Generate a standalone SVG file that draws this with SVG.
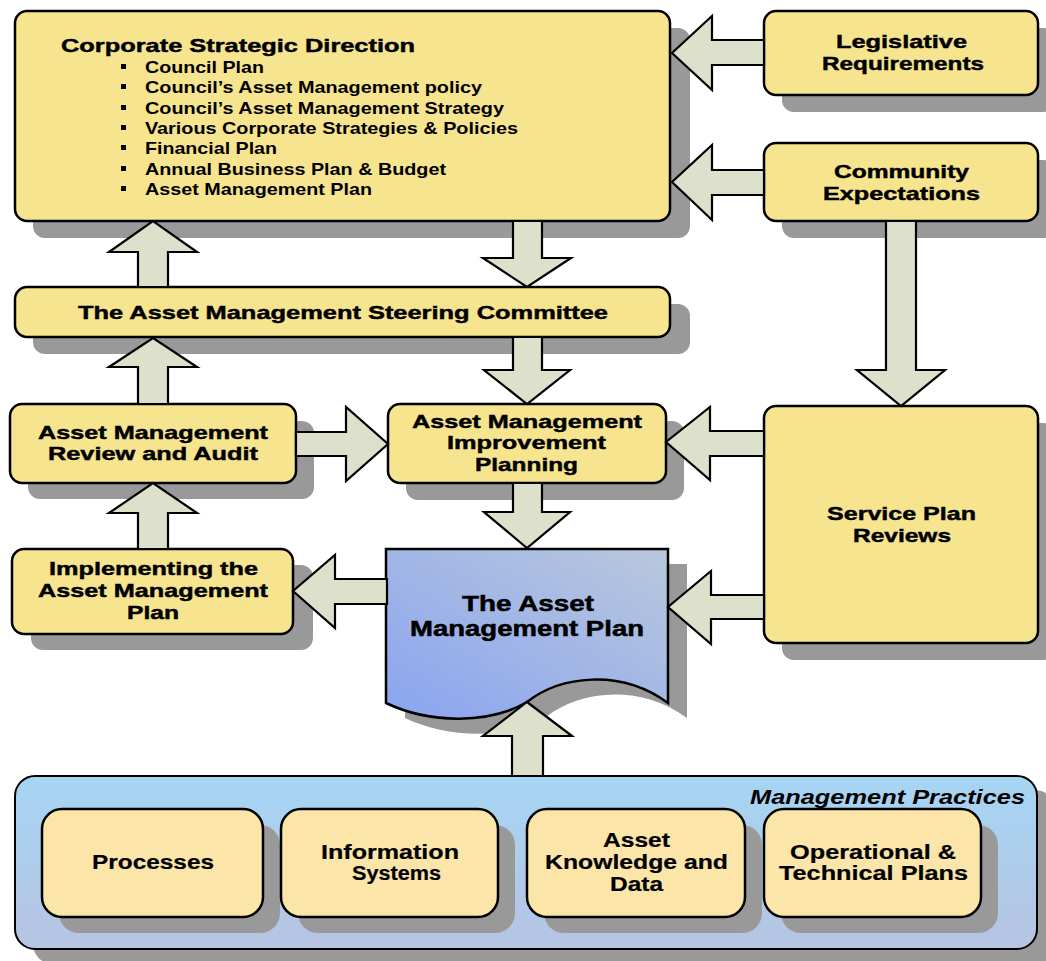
<svg xmlns="http://www.w3.org/2000/svg" width="1046" height="961" viewBox="0 0 1046 961">
<defs>
<linearGradient id="docGrad" x1="0" y1="1" x2="1" y2="0">
<stop offset="0" stop-color="#8aa4f0"/>
<stop offset="1" stop-color="#b9c8dc"/>
</linearGradient>
<linearGradient id="mpGrad" x1="0" y1="0" x2="0" y2="1">
<stop offset="0" stop-color="#a6d5f4"/>
<stop offset="1" stop-color="#b6c4e2"/>
</linearGradient>
</defs>
<style>
.sh{fill:#999999;}
.box{fill:#f6e48e;stroke:#000;stroke-width:2.5;}
.ibox{fill:#fbe5a9;stroke:#000;stroke-width:2.5;}
.arr{fill:#dde1cb;stroke:#000;stroke-width:2.2;stroke-linejoin:miter;}
.t{font-family:"Liberation Sans",Arial,sans-serif;font-weight:bold;font-size:19px;fill:#000;stroke:#000;stroke-width:0.45;}
.b{font-family:"Liberation Sans",Arial,sans-serif;font-weight:bold;font-size:17px;fill:#000;}
.d{font-family:"Liberation Sans",Arial,sans-serif;font-weight:bold;font-size:22px;fill:#000;stroke:#000;stroke-width:0.5;}
.i{font-family:"Liberation Sans",Arial,sans-serif;font-weight:bold;font-size:20px;fill:#000;stroke:#000;stroke-width:0.2;}
.mp{font-family:"Liberation Sans",Arial,sans-serif;font-weight:bold;font-style:italic;font-size:20px;fill:#000;}
</style>
<rect width="1046" height="961" fill="#ffffff"/>

<g id="corporate">
<rect class="sh" x="33" y="28" width="657" height="210" rx="12"/>
<rect class="box" x="15" y="11" width="655" height="210" rx="12"/>
<text class="t" x="61" y="52" textLength="354" lengthAdjust="spacingAndGlyphs">Corporate Strategic Direction</text>
<rect x="121" y="64" width="5" height="5"/>
<rect x="121" y="84" width="5" height="5"/>
<rect x="121" y="105" width="5" height="5"/>
<rect x="121" y="125" width="5" height="5"/>
<rect x="121" y="145" width="5" height="5"/>
<rect x="121" y="166" width="5" height="5"/>
<rect x="121" y="186" width="5" height="5"/>
<text class="b" x="145" y="73" textLength="119" lengthAdjust="spacingAndGlyphs">Council Plan</text>
<text class="b" x="145" y="93" textLength="337" lengthAdjust="spacingAndGlyphs">Council&#8217;s Asset Management policy</text>
<text class="b" x="145" y="114" textLength="359" lengthAdjust="spacingAndGlyphs">Council&#8217;s Asset Management Strategy</text>
<text class="b" x="145" y="134" textLength="373" lengthAdjust="spacingAndGlyphs">Various Corporate Strategies &amp; Policies</text>
<text class="b" x="145" y="154" textLength="132" lengthAdjust="spacingAndGlyphs">Financial Plan</text>
<text class="b" x="145" y="175" textLength="301" lengthAdjust="spacingAndGlyphs">Annual Business Plan &amp; Budget</text>
<text class="b" x="145" y="195" textLength="227" lengthAdjust="spacingAndGlyphs">Asset Management Plan</text>
</g>

<g id="legislative">
<rect class="sh" x="782" y="28" width="274" height="84" rx="12"/>
<rect class="box" x="764" y="11" width="274" height="84" rx="12"/>
<text class="t" x="836" y="48" textLength="131" lengthAdjust="spacingAndGlyphs">Legislative</text>
<text class="t" x="822" y="70" textLength="162" lengthAdjust="spacingAndGlyphs">Requirements</text>
</g>

<g id="community">
<rect class="sh" x="782" y="160" width="274" height="78" rx="12"/>
<rect class="box" x="764" y="143" width="274" height="78" rx="12"/>
<text class="t" x="834" y="178" textLength="135" lengthAdjust="spacingAndGlyphs">Community</text>
<text class="t" x="823" y="200" textLength="157" lengthAdjust="spacingAndGlyphs">Expectations</text>
</g>

<g id="steering">
<rect class="sh" x="33" y="304" width="657" height="50" rx="12"/>
<rect class="box" x="15" y="287" width="655" height="50" rx="12"/>
<text class="t" x="78" y="319" textLength="530" lengthAdjust="spacingAndGlyphs">The Asset Management Steering Committee</text>
</g>

<g id="review">
<rect class="sh" x="28" y="421" width="286" height="78" rx="12"/>
<rect class="box" x="10" y="404" width="286" height="79" rx="12"/>
<text class="t" x="38" y="439" textLength="230" lengthAdjust="spacingAndGlyphs">Asset Management</text>
<text class="t" x="48" y="460" textLength="210" lengthAdjust="spacingAndGlyphs">Review and Audit</text>
</g>

<g id="improvement">
<rect class="sh" x="406" y="421" width="278" height="79" rx="12"/>
<rect class="box" x="388" y="404" width="278" height="79" rx="12"/>
<text class="t" x="412" y="428" textLength="230" lengthAdjust="spacingAndGlyphs">Asset Management</text>
<text class="t" x="447" y="449" textLength="159" lengthAdjust="spacingAndGlyphs">Improvement</text>
<text class="t" x="475" y="471" textLength="103" lengthAdjust="spacingAndGlyphs">Planning</text>
</g>

<g id="service">
<rect class="sh" x="782" y="423" width="274" height="237" rx="12"/>
<rect class="box" x="764" y="406" width="274" height="237" rx="12"/>
<text class="t" x="827" y="520" textLength="149" lengthAdjust="spacingAndGlyphs">Service Plan</text>
<text class="t" x="853" y="542" textLength="98" lengthAdjust="spacingAndGlyphs">Reviews</text>
</g>

<g id="implementing">
<rect class="sh" x="31" y="565" width="282" height="85" rx="12"/>
<rect class="box" x="12" y="549" width="281" height="85" rx="12"/>
<text class="t" x="49" y="575" textLength="209" lengthAdjust="spacingAndGlyphs">Implementing the</text>
<text class="t" x="38" y="597" textLength="230" lengthAdjust="spacingAndGlyphs">Asset Management</text>
<text class="t" x="127" y="619" textLength="52" lengthAdjust="spacingAndGlyphs">Plan</text>
</g>

<g id="amp">
<path class="sh" d="M405,564 L687,564 L687,718 C639,683 579,691 546,717 C509,739 449,739 405,718 Z"/>
<path d="M386,549 L668,549 L668,703 C620,668 560,676 527,702 C490,724 430,724 386,703 Z" fill="url(#docGrad)" stroke="#000" stroke-width="2.5"/>
<text class="d" x="462" y="611" textLength="132" lengthAdjust="spacingAndGlyphs">The Asset</text>
<text class="d" x="410" y="636" textLength="234" lengthAdjust="spacingAndGlyphs">Management Plan</text>
</g>

<g id="practices">
<rect class="sh" x="33" y="790" width="1022" height="174" rx="20"/>
<rect x="15" y="776" width="1022" height="173" rx="20" fill="url(#mpGrad)" stroke="#000" stroke-width="2"/>
<text class="mp" x="750" y="804" textLength="275" lengthAdjust="spacingAndGlyphs">Management Practices</text>
</g>

<g id="processes">
<rect class="sh" x="59" y="825" width="221" height="108" rx="20"/>
<rect class="ibox" x="42" y="809" width="221" height="108" rx="20"/>
<text class="i" x="92" y="869" textLength="122" lengthAdjust="spacingAndGlyphs">Processes</text>
</g>

<g id="information">
<rect class="sh" x="298" y="825" width="217" height="108" rx="20"/>
<rect class="ibox" x="281" y="809" width="217" height="108" rx="20"/>
<text class="i" x="321" y="859" textLength="138" lengthAdjust="spacingAndGlyphs">Information</text>
<text class="i" x="352" y="880" textLength="89" lengthAdjust="spacingAndGlyphs">Systems</text>
</g>

<g id="knowledge">
<rect class="sh" x="544" y="825" width="218" height="108" rx="20"/>
<rect class="ibox" x="527" y="809" width="218" height="108" rx="20"/>
<text class="i" x="603" y="847" textLength="67" lengthAdjust="spacingAndGlyphs">Asset</text>
<text class="i" x="545" y="869" textLength="183" lengthAdjust="spacingAndGlyphs">Knowledge and</text>
<text class="i" x="610" y="891" textLength="53" lengthAdjust="spacingAndGlyphs">Data</text>
</g>

<g id="operational">
<rect class="sh" x="781" y="825" width="217" height="108" rx="20"/>
<rect class="ibox" x="764" y="809" width="217" height="108" rx="20"/>
<text class="i" x="790" y="859" textLength="166" lengthAdjust="spacingAndGlyphs">Operational &amp;</text>
<text class="i" x="779" y="880" textLength="189" lengthAdjust="spacingAndGlyphs">Technical Plans</text>
</g>

<g id="connectors">
<polygon class="arr" points="764,40 712,40 712,16 672,53 712,90 712,65 764,65"/>
<polygon class="arr" points="764,170 712,170 712,145 672,182 712,220 712,195 764,195"/>
<polygon class="arr" points="886,221 886,370 857,370 901,406 945,370 916,370 916,221"/>
<polygon class="arr" points="138,287 138,252 109,252 153,221 197,252 168,252 168,287"/>
<polygon class="arr" points="513,221 513,258 483,258 527,287 571,258 542,258 542,221"/>
<polygon class="arr" points="138,404 138,367 109,367 153,338 197,367 168,367 168,404"/>
<polygon class="arr" points="513,337 513,370 484,370 527,404 570,370 542,370 542,337"/>
<polygon class="arr" points="296,432 346,432 346,407 388,444 346,481 346,456 296,456"/>
<polygon class="arr" points="513,483 513,512 484,512 527,548 570,512 542,512 542,483"/>
<polygon class="arr" points="138,549 138,513 109,513 153,483 197,513 168,513 168,549"/>
<polygon class="arr" points="387,579 335,579 335,555 293,591 335,628 335,604 387,604"/>
<polygon class="arr" points="764,431 710,431 710,407 666,442 710,480 710,456 764,456"/>
<polygon class="arr" points="764,595 711,595 711,571 668,607 711,644 711,619 764,619"/>
<polygon class="arr" points="512,776 512,736 483,736 527,702 572,736 543,736 543,776"/>
</g>
</svg>
